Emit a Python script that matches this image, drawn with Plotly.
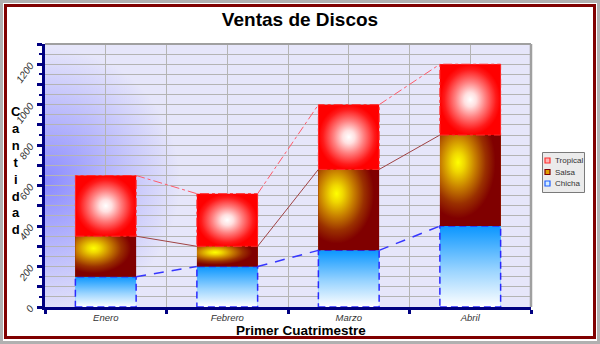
import base64
import plotly.graph_objects as go

# ---------------- data ----------------
months = ["Enero", "Febrero", "Marzo", "Abril"]
chicha = [150, 200, 280, 400]
salsa = [200, 100, 400, 450]
tropical = [300, 260, 320, 350]
legend_order = ["Tropical", "Salsa", "Chicha"]
y_ticks = list(range(0, 1301, 100))
y_labels = [str(v) if v % 200 == 0 else "" for v in y_ticks]

# ---------------- layout helpers ----------------
FONT = "Liberation Sans, Arial, sans-serif"
WIDTH, HEIGHT = 600, 344
L, R, T, B = 45, 531, 44, 307
W, H = R - L, B - T


def px(x):
    return (x - L) / W


def py(y):
    return (B - y) / H


BAR_W = 0.5
GRID = "#b4b4b4"
NAVY = "#000080"
xs = list(range(len(months)))

series = [("Chicha", chicha), ("Salsa", salsa), ("Tropical", tropical)]
solid = {"Chicha": "#7cc4ff", "Salsa": "#a03000", "Tropical": "#ff6060"}

fig = go.Figure()
for name, vals in series:
    fig.add_trace(go.Bar(x=xs, y=vals, name=name, width=BAR_W,
                         marker=dict(color=solid[name], line=dict(width=0)),
                         showlegend=False, hoverinfo="skip"))

# cumulative bases / tops
bases, tops = {}, {}
acc = [0] * len(months)
for name, vals in series:
    bases[name] = acc[:]
    acc = [a + v for a, v in zip(acc, vals)]
    tops[name] = acc[:]

grad = {
    "Chicha": dict(type="vertical", colorscale=[[0, "#ffffff"], [0.45, "#9ad4ff"], [1, "#0a96ff"]]),
    "Salsa": dict(type="radial", colorscale=[[0, "#ffff00"], [0.15, "#f0d800"], [0.4, "#c88000"],
                                             [0.65, "#9a3000"], [0.88, "#800000"], [1, "#800000"]]),
    "Tropical": dict(type="radial", colorscale=[[0, "#ffffff"], [0.2, "#ffe0e0"], [0.5, "#ff8080"],
                                                [0.85, "#ff1a1a"], [1, "#ff0000"]]),
}
outline = {
    "Chicha": dict(color="#2a2aff", width=1.5, dash="7px,4px"),
    "Salsa": dict(color="#800000", width=0),
    "Tropical": dict(color="#ff2a2a", width=1, dash="dashdot"),
}

# gradient overlays for every bar segment (computed from data)
for name, vals in series:
    for i, x in enumerate(xs):
        b0, b1 = bases[name][i], tops[name][i]
        x0, x1 = x - BAR_W / 2, x + BAR_W / 2
        px_ = [x0, x1, x1, x0, x0]
        py_ = [b0, b0, b1, b1, b0]
        if name == "Salsa":
            # zero-area spikes shift the radial centre to the upper-left
            ext_x = 0.4 * BAR_W
            ext_y = 0.4 * (b1 - b0)
            px_ = [x0, x1, x1, x0, x0, x0, x0 - ext_x, x0, x0]
            py_ = [b0, b0, b1, b1, b1 + ext_y, b1, b1, b1, b0]
        fig.add_trace(go.Scatter(x=px_, y=py_, mode="lines", fill="toself",
                                 fillgradient=grad[name],
                                 line=dict(simplify=False, **outline[name]),
                                 showlegend=False, hoverinfo="skip"))

# series connector lines
line_styles = {
    "Chicha": dict(color="#3636ff", width=1.5, dash="10px,8px"),
    "Salsa": dict(color="#a04444", width=1),
    "Tropical": dict(color="#ff5c6a", width=1, dash="dashdot"),
}
for name, _ in series:
    lx, ly = [], []
    for i in range(len(months) - 1):
        lx += [xs[i] + BAR_W / 2, xs[i + 1] - BAR_W / 2, None]
        ly += [tops[name][i], tops[name][i + 1], None]
    fig.add_trace(go.Scatter(x=lx, y=ly, mode="lines", line=line_styles[name],
                             showlegend=False, hoverinfo="skip"))

# plot background with bluish glow
glow_svg = (
    f"<svg xmlns='http://www.w3.org/2000/svg' width='{W}' height='{H}' viewBox='0 0 {W} {H}' "
    f"preserveAspectRatio='none'><defs><radialGradient id='g' gradientUnits='userSpaceOnUse' "
    f"cx='0' cy='138' r='135'><stop offset='0' stop-color='#8a8aff'/>"
    f"<stop offset='0.45' stop-color='#b4b4fc'/><stop offset='1' stop-color='#e6e6fa'/>"
    f"</radialGradient></defs><rect width='{W}' height='{H}' fill='url(#g)'/></svg>"
)
fig.add_layout_image(dict(
    source="data:image/svg+xml;base64," + base64.b64encode(glow_svg.encode()).decode(),
    xref="x domain", yref="y domain", x=0, y=1, sizex=1, sizey=1,
    sizing="stretch", xanchor="left", yanchor="top", layer="below"))

shapes = []
# plot frame (top / right)
shapes.append(dict(type="line", xref="paper", yref="paper", x0=0, x1=1, y0=1, y1=1,
                   line=dict(color="#a0a0a0", width=2)))
shapes.append(dict(type="line", xref="paper", yref="paper", x0=1, x1=1, y0=0, y1=1,
                   line=dict(color="#a0a0a0", width=2.5)))
# outer frames
shapes.append(dict(type="rect", xref="paper", yref="paper", x0=px(1.5), x1=px(598.5),
                   y0=py(342.5), y1=py(1.5), line=dict(color="#b0b0b0", width=3)))
shapes.append(dict(type="rect", xref="paper", yref="paper", x0=px(5.5), x1=px(594.5),
                   y0=py(337.5), y1=py(5.5), line=dict(color="#800000", width=3)))
# legend box
shapes.append(dict(type="rect", xref="paper", yref="paper", x0=px(542.5), x1=px(584.5),
                   y0=py(192.5), y1=py(152.5), fillcolor="#ebebeb",
                   line=dict(color="#7a7a7a", width=1)))
sw = {"Tropical": ("#ffb4b4", "#ff3030"), "Salsa": ("#e0a000", "#800000"), "Chicha": ("#d4ecff", "#2060ff")}
annotations = []
for k, name in enumerate(legend_order):
    cy = 160.5 + 11.5 * k
    fill, edge = sw[name]
    shapes.append(dict(type="rect", xref="paper", yref="paper", x0=px(545), x1=px(550),
                       y0=py(cy + 2.5), y1=py(cy - 2.5), fillcolor=fill,
                       line=dict(color=edge, width=1.2)))
    annotations.append(dict(text=name, xref="paper", yref="paper", x=px(552.5), y=py(cy),
                            xanchor="left", yanchor="middle", showarrow=False,
                            font=dict(family=FONT, size=8, color="#333333")))

annotations.append(dict(text="<b>Primer Cuatrimestre</b>", xref="paper", yref="paper",
                        x=px(301), y=py(330.5), xanchor="center", yanchor="middle",
                        showarrow=False, font=dict(family=FONT, size=13.5, color="#000000")))
annotations.append(dict(text="<b>C<br>a<br>n<br>t<br>i<br>d<br>a<br>d</b>", xref="paper", yref="paper",
                        x=px(15.5), y=py(170), xanchor="center", yanchor="middle", align="center",
                        showarrow=False, font=dict(family=FONT, size=13, color="#000000")))

fig.update_layout(
    width=WIDTH, height=HEIGHT,
    margin=dict(l=L, r=WIDTH - R, t=T, b=HEIGHT - B, pad=0),
    paper_bgcolor="white", plot_bgcolor="rgba(0,0,0,0)",
    barmode="stack", showlegend=False,
    title=dict(text="<b>Ventas de Discos</b>", x=0.5, xref="container", xanchor="center",
               y=1 - 19 / HEIGHT, yref="container", yanchor="middle",
               font=dict(family=FONT, size=19, color="#000000")),
    xaxis=dict(range=[-0.5, 3.5], tickmode="array", tickvals=xs, ticktext=months, ticks="",
               showgrid=True, gridcolor=GRID, gridwidth=1, zeroline=False,
               showline=True, linecolor=NAVY, linewidth=3, fixedrange=True,
               tickfont=dict(family=FONT, size=9.5, color="#333333", style="italic"),
               minor=dict(tickmode="array", tickvals=[-0.5, 0.5, 1.5, 2.5, 3.5], ticks="outside",
                          ticklen=4, tickwidth=3, tickcolor=NAVY, showgrid=True,
                          gridcolor=GRID, gridwidth=1)),
    yaxis=dict(range=[0, 1300], tickmode="array", tickvals=y_ticks, ticktext=y_labels,
               ticks="outside", ticklen=5, tickwidth=2.5, tickcolor=NAVY,
               showgrid=True, gridcolor=GRID, gridwidth=1, zeroline=False,
               showline=True, linecolor=NAVY, linewidth=3, tickangle=-55, fixedrange=True,
               ticklabelstandoff=5,
               tickfont=dict(family=FONT, size=10, color="#333333", style="italic"),
               minor=dict(tickmode="array", tickvals=[50 + 100 * k for k in range(13)],
                          ticks="outside", ticklen=3, tickwidth=2, tickcolor=NAVY,
                          showgrid=True, gridcolor=GRID, gridwidth=1)),
    shapes=shapes, annotations=annotations,
)

fig.write_html("out.html")
